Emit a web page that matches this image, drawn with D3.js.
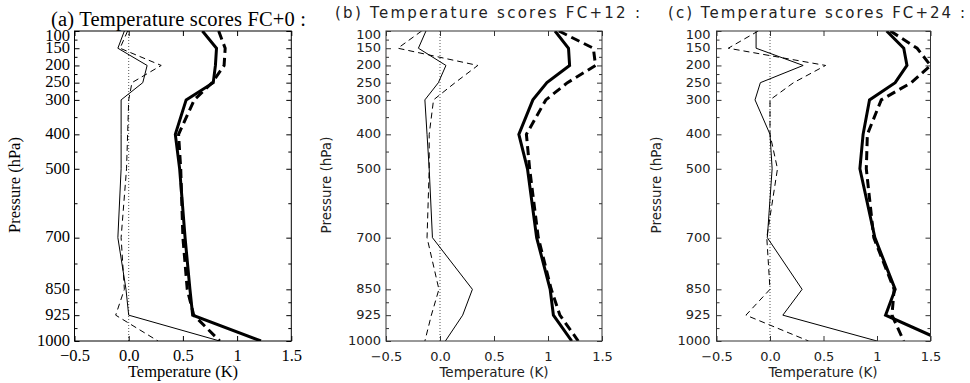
<!DOCTYPE html>
<html>
<head>
<meta charset="utf-8">
<script src="https://cdn.jsdelivr.net/npm/d3@7"></script>
<style>
  html, body { margin: 0; padding: 0; background: #fff; }
  svg { display: block; }
</style>
</head>
<body>
<svg id="chart" width="970" height="383"></svg>
<script>
// Standard pressure levels (hPa) and axis tick labels
const pressureLevels = [100, 150, 200, 250, 300, 400, 500, 700, 850, 925, 1000];
const pressureTickLabels = ["100", "150", "200", "250", "300", "400", "500", "700", "850", "925", "1000"];
const tempTicks = [-0.5, 0, 0.5, 1, 1.5];
const tempTickLabels = ["\u22120.5", "0.0", "0.5", "1", "1.5"];

// FC+0 temperature scores (K): RMS error (thick) and bias (thin), experiments A (solid) and B (dashed)
const fc0RmsA  = [0.68, 0.81, 0.80, 0.78, 0.53, 0.43, 0.47, 0.52, 0.565, 0.59, 1.22];
const fc0RmsB  = [0.83, 0.89, 0.88, 0.77, 0.605, 0.46, 0.48, 0.50, 0.54, 0.60, 0.84];
const fc0BiasA = [-0.04, -0.10, 0.17, 0.13, -0.07, -0.07, -0.07, -0.10, -0.025, 0.0, 0.84];
const fc0BiasB = [-0.01, -0.08, 0.30, 0.03, 0.0, -0.01, -0.02, -0.07, -0.04, -0.12, 0.27];

// FC+12
const fc12RmsA  = [1.065, 1.19, 1.20, 0.99, 0.86, 0.73, 0.81, 0.895, 1.02, 1.05, 1.22];
const fc12RmsB  = [1.10, 1.42, 1.44, 1.18, 0.98, 0.80, 0.83, 0.91, 1.03, 1.11, 1.28];
const fc12BiasA = [-0.13, -0.20, 0.055, -0.015, -0.14, -0.12, -0.10, -0.07, 0.30, 0.21, 0.05];
const fc12BiasB = [-0.17, -0.39, 0.35, 0.14, -0.06, -0.10, -0.10, -0.12, -0.01, -0.08, -0.14];

// FC+24
const fc24RmsA  = [1.09, 1.25, 1.28, 1.17, 0.93, 0.87, 0.84, 0.98, 1.17, 1.08, 1.62];
const fc24RmsB  = [1.125, 1.375, 1.50, 1.32, 1.04, 0.91, 0.90, 0.97, 1.16, 1.14, 1.25];
const fc24BiasA = [-0.13, -0.13, 0.31, -0.09, -0.14, 0.0, 0.02, -0.025, 0.30, 0.12, 1.0];
const fc24BiasB = [-0.11, -0.39, 0.52, 0.22, 0.0, 0.0, 0.07, -0.03, 0.0, -0.225, 0.36];

const SERIF = "'Liberation Serif', 'Times New Roman', serif";
const SANS = "'DejaVu Sans', 'Liberation Sans', sans-serif";

const panels = [
  {
    key: "a", title: "(a) Temperature scores FC+0 :",
    rmsA: fc0RmsA, rmsB: fc0RmsB, biasA: fc0BiasA, biasB: fc0BiasB,
    left: 74.5, right: 291.3,
    font: SERIF, ink: "#000", frame: "#000",
    titleSize: 20.5, titleX: 51, titleY: 25.5, titleLen: 255,
    tickSize: 16.5, labelSize: 16.5, yPad: 4.5, xPad: 8.5,
    yTitleX: 20, xTitleX: 183, xTitleY: 377
  },
  {
    key: "b", title: "(b) Temperature scores FC+12 :",
    rmsA: fc12RmsA, rmsB: fc12RmsB, biasA: fc12BiasA, biasB: fc12BiasB,
    left: 386, right: 602,
    font: SANS, ink: "#222", frame: "#333",
    titleSize: 15, titleX: 335, titleY: 17.5, titleLen: 305,
    tickSize: 13, labelSize: 13.5, yPad: 5, xPad: 10.8,
    yTitleX: 331, xTitleX: 494, xTitleY: 377
  },
  {
    key: "c", title: "(c) Temperature scores FC+24 :",
    rmsA: fc24RmsA, rmsB: fc24RmsB, biasA: fc24BiasA, biasB: fc24BiasB,
    left: 716.5, right: 930.5,
    font: SANS, ink: "#222", frame: "#333",
    titleSize: 15, titleX: 668, titleY: 17.5, titleLen: 297,
    tickSize: 13, labelSize: 13.5, yPad: 6, xPad: 10.8,
    yTitleX: 661, xTitleX: 823, xTitleY: 377
  }
];

const TOP = 31, BOTTOM = 341;
const svg = d3.select("#chart");
const defs = svg.append("defs");
const minorLevels = d3.pairs(pressureLevels, (a, b) => (a + b) / 2);

panels.forEach(p => {
  const x = d3.scaleLinear().domain([-0.5, 1.5]).range([p.left, p.right]);
  const y = d3.scaleLinear().domain([100, 1000]).range([TOP, BOTTOM]);
  const g = svg.append("g").attr("class", "panel-" + p.key);

  defs.append("clipPath").attr("id", "clip-" + p.key)
    .append("rect")
    .attr("x", p.left).attr("y", TOP)
    .attr("width", p.right - p.left).attr("height", BOTTOM - TOP);

  const plot = g.append("g").attr("clip-path", `url(#clip-${p.key})`);

  // zero reference line
  plot.append("line")
    .attr("x1", x(0)).attr("x2", x(0))
    .attr("y1", TOP).attr("y2", BOTTOM)
    .attr("stroke", "#555").attr("stroke-width", 1)
    .attr("stroke-dasharray", "1,2");

  const line = d3.line()
    .x(d => x(d))
    .y((d, i) => y(pressureLevels[i]));

  const series = [
    { values: p.biasB, width: 1, dash: "6,4" },
    { values: p.biasA, width: 1, dash: null },
    { values: p.rmsB, width: 3, dash: "9,5" },
    { values: p.rmsA, width: 3, dash: null }
  ];
  series.forEach(s => {
    plot.append("path")
      .datum(s.values)
      .attr("d", line)
      .attr("fill", "none")
      .attr("stroke", "#000")
      .attr("stroke-width", s.width)
      .attr("stroke-linejoin", "miter")
      .attr("stroke-dasharray", s.dash);
  });

  // frame
  g.append("rect")
    .attr("x", p.left).attr("y", TOP)
    .attr("width", p.right - p.left).attr("height", BOTTOM - TOP)
    .attr("fill", "none").attr("stroke", p.frame).attr("stroke-width", 1);

  const styleAxis = sel => {
    sel.select(".domain").remove();
    sel.selectAll(".tick line").attr("stroke", p.frame);
    sel.selectAll(".tick text")
      .attr("fill", p.ink)
      .style("font-family", p.font)
      .style("font-size", p.tickSize + "px");
  };

  // left axis with labels
  const yLeft = g.append("g").attr("transform", `translate(${p.left},0)`)
    .call(d3.axisLeft(y).tickValues(pressureLevels)
      .tickFormat((d, i) => pressureTickLabels[i])
      .tickSize(-5).tickSizeOuter(0).tickPadding(p.yPad));
  styleAxis(yLeft);
  yLeft.selectAll(".tick text").attr("dy", d => d === 100 ? "0.6em" : "0.26em");

  g.append("g").attr("transform", `translate(${p.left},0)`)
    .call(d3.axisLeft(y).tickValues(minorLevels).tickFormat("")
      .tickSize(-3).tickSizeOuter(0))
    .call(styleAxis);

  // right axis (ticks only)
  g.append("g").attr("transform", `translate(${p.right},0)`)
    .call(d3.axisRight(y).tickValues(pressureLevels).tickFormat("")
      .tickSize(-5).tickSizeOuter(0))
    .call(styleAxis);
  g.append("g").attr("transform", `translate(${p.right},0)`)
    .call(d3.axisRight(y).tickValues(minorLevels).tickFormat("")
      .tickSize(-3).tickSizeOuter(0))
    .call(styleAxis);

  // bottom axis with labels
  g.append("g").attr("transform", `translate(0,${BOTTOM})`)
    .call(d3.axisBottom(x).tickValues(tempTicks)
      .tickFormat((d, i) => tempTickLabels[i])
      .tickSize(-5).tickSizeOuter(0).tickPadding(p.xPad))
    .call(styleAxis);

  // top axis (ticks only)
  g.append("g").attr("transform", `translate(0,${TOP})`)
    .call(d3.axisTop(x).tickValues(tempTicks).tickFormat("")
      .tickSize(-5).tickSizeOuter(0))
    .call(styleAxis);

  // titles
  g.append("text")
    .attr("x", p.titleX).attr("y", p.titleY)
    .attr("fill", p.ink)
    .attr("textLength", p.titleLen).attr("lengthAdjust", "spacing")
    .style("font-family", p.font)
    .style("font-size", p.titleSize + "px")
    .text(p.title);

  g.append("text")
    .attr("transform", `translate(${p.yTitleX},185) rotate(-90)`)
    .attr("text-anchor", "middle")
    .attr("fill", p.ink)
    .style("font-family", p.font)
    .style("font-size", p.labelSize + "px")
    .text("Pressure (hPa)");

  g.append("text")
    .attr("x", p.xTitleX).attr("y", p.xTitleY)
    .attr("text-anchor", "middle")
    .attr("fill", p.ink)
    .style("font-family", p.font)
    .style("font-size", p.labelSize + "px")
    .text("Temperature (K)");
});
</script>
</body>
</html>
